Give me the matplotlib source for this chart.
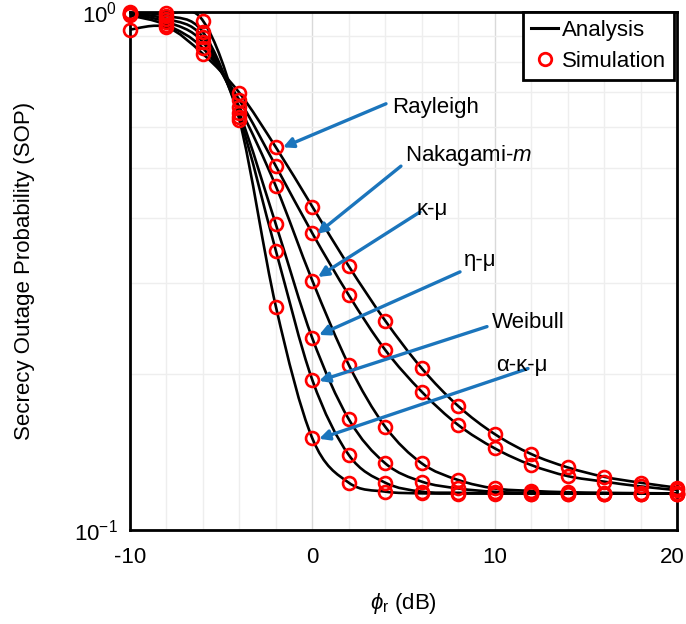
import numpy as np
import matplotlib
matplotlib.use('Agg')
import matplotlib.pyplot as plt
from matplotlib.path import Path
from matplotlib.patches import PathPatch
from matplotlib.lines import Line2D
from matplotlib.ticker import MultipleLocator, LogLocator, NullFormatter
from matplotlib.transforms import ScaledTranslation

plt.rcParams['font.family'] = ['Liberation Sans', 'DejaVu Sans']
plt.rcParams['mathtext.fontset'] = 'custom'
plt.rcParams['mathtext.rm'] = 'Liberation Sans'
plt.rcParams['mathtext.it'] = 'Liberation Sans:italic'
plt.rcParams['axes.unicode_minus'] = False

# phi_r (dB)
phi_db = [-10, -8, -6, -4, -2, 0, 2, 4, 6, 8, 10, 12, 14, 16, 18, 20]

# SOP (analysis and simulation coincide)
sop_rayleigh = [0.925, 0.935, 0.830, 0.698, 0.548, 0.421, 0.323, 0.2535,
                0.2052, 0.1735, 0.1532, 0.1402, 0.1321, 0.1267, 0.1234, 0.1207]
sop_nakagami = [0.985, 0.944, 0.851, 0.676, 0.504, 0.374, 0.284, 0.2226,
                0.1849, 0.1595, 0.1438, 0.1335, 0.1271, 0.1240, 0.1214, 0.1194]
sop_kappa_mu = [0.990, 0.957, 0.874, 0.655, 0.461, 0.303, 0.2083, 0.1582,
                0.1345, 0.1249, 0.1203, 0.1190, 0.1183, 0.1180, 0.1178, 0.1177]
sop_eta_mu = [0.993, 0.970, 0.894, 0.638, 0.389, 0.2345, 0.1636, 0.1345,
              0.1240, 0.1203, 0.1185, 0.1179, 0.1177, 0.1176, 0.1176, 0.1176]
sop_weibull = [0.996, 0.983, 0.914, 0.627, 0.346, 0.1948, 0.1396, 0.1234,
               0.1186, 0.1180, 0.1177, 0.1176, 0.1176, 0.1176, 0.1176, 0.1176]
sop_akm = [0.998, 0.995, 0.962, 0.619, 0.270, 0.1503, 0.1234, 0.1186,
           0.1177, 0.1176, 0.1176, 0.1176, 0.1176, 0.1176, 0.1176, 0.1176]

curves = [sop_rayleigh, sop_nakagami, sop_kappa_mu, sop_eta_mu, sop_weibull, sop_akm]
labels = ['Rayleigh', 'Nakagami-$m$', 'κ-μ', 'η-μ', 'Weibull', 'α-κ-μ']

# annotation layout: label position, arrow tail, arrow tip (data coords)
label_pos = [(4.37, 0.653), (5.08, 0.529), (5.69, 0.415), (8.32, 0.331), (9.85, 0.251), (10.07, 0.208)]
arrow_tail = [(4.04, 0.665), (4.86, 0.504), (5.90, 0.411), (8.10, 0.315), (9.58, 0.247), (11.83, 0.205)]
arrow_tip = [(-1.61, 0.548), (0.26, 0.373), (0.31, 0.308), (0.37, 0.238), (0.37, 0.194), (0.37, 0.150)]


def smooth_path(x, y):
    # Excel-like smoothed line (Catmull-Rom Bezier in display space, log y)
    px = np.asarray(x, float)
    py = np.log10(np.asarray(y, float))
    n = len(px)
    verts = [(px[0], py[0])]
    codes = [Path.MOVETO]
    for i in range(n - 1):
        i0 = max(i - 1, 0)
        i3 = min(i + 2, n - 1)
        c1 = (px[i] + (px[i + 1] - px[i0]) / 6, py[i] + (py[i + 1] - py[i0]) / 6)
        c2 = (px[i + 1] - (px[i3] - px[i]) / 6, py[i + 1] - (py[i3] - py[i]) / 6)
        verts += [c1, c2, (px[i + 1], py[i + 1])]
        codes += [Path.CURVE4] * 3
    verts = np.array(verts)
    verts[:, 1] = 10 ** verts[:, 1]
    return Path(verts, codes)


fig = plt.figure(figsize=(6.86, 6.24), dpi=100)
ax = fig.add_axes([0.1895, 0.1506, 0.7974, 0.8302])
ax.set_yscale('log')
ax.set_xlim(-10, 20)
ax.set_ylim(0.1, 1.0)

for sop in curves:
    ax.add_patch(PathPatch(smooth_path(phi_db, sop), fill=False, edgecolor='black',
                           lw=1.9, zorder=3, transform=ax.transData))
    ax.plot(phi_db, sop, ls='none', marker='o', ms=9.3, mfc='none', mec='#ff0000',
            mew=1.9, zorder=4, clip_on=False)

blue = '#1B75BC'
for name, lp, tail, tip in zip(labels, label_pos, arrow_tail, arrow_tip):
    ax.text(lp[0], lp[1], name, fontsize=16, ha='left', va='center', zorder=6)
    ax.annotate('', xy=tip, xytext=tail,
                arrowprops=dict(arrowstyle='-|>', color=blue, lw=2.4,
                                mutation_scale=15, shrinkA=0, shrinkB=0), zorder=5)

ax.xaxis.set_major_locator(MultipleLocator(10))
ax.xaxis.set_minor_locator(MultipleLocator(2))
ax.yaxis.set_minor_locator(LogLocator(base=10, subs=np.arange(2, 10)))
ax.yaxis.set_minor_formatter(NullFormatter())
ax.grid(which='major', color='#d9d9d9', lw=1.0)
ax.grid(which='minor', color='#eeeeee', lw=1.0)
ax.set_axisbelow(True)
ax.tick_params(which='both', length=0, labelsize=16)
ax.tick_params(axis='x', pad=12)
ax.tick_params(axis='y', pad=9)
for s in ax.spines.values():
    s.set_linewidth(2)
    s.set_color('black')

ax.set_xlabel(r'$\phi_\mathrm{r}$ (dB)', fontsize=16)
ax.set_ylabel('Secrecy Outage Probability (SOP)', fontsize=16)
ax.xaxis.set_label_coords(0.5, -0.117)
ax.yaxis.set_label_coords(-0.173, 0.5)

handles = [Line2D([], [], color='black', lw=2.2, label='Analysis'),
           Line2D([], [], ls='none', marker='o', mfc='none', mec='#ff0000', mew=2,
                  ms=9, label='Simulation')]
leg = ax.legend(handles=handles, loc='upper right', bbox_to_anchor=(0.995, 1.0),
                borderaxespad=0, fancybox=False, framealpha=1, edgecolor='black',
                fontsize=16, handlelength=1.2, handletextpad=0.2, borderpad=0.35,
                labelspacing=0.45)
leg.get_frame().set_linewidth(2)
leg.set_zorder(7)

# nudge the last x tick label ("20") left so it stays inside the figure
fig.canvas.draw()
for tick in ax.xaxis.get_major_ticks():
    if abs(tick.get_loc() - 20) < 1e-9:
        lbl = tick.label1
        lbl.set_transform(lbl.get_transform() + ScaledTranslation(-0.05, 0, fig.dpi_scale_trans))

fig.savefig('out.png', dpi=100)
